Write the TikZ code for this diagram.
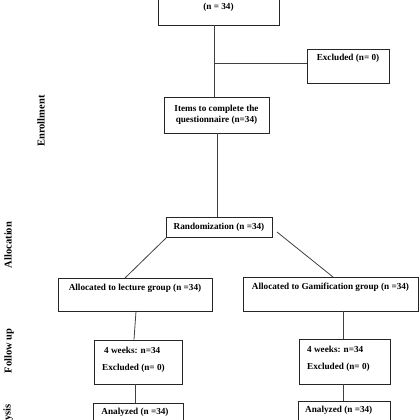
\documentclass[tikz,border=0pt]{standalone}
\usepackage{fontspec}
\setmainfont{Liberation Serif}
\tikzset{
  box/.style={draw=black!85, line width=0.9pt, rectangle, inner sep=0pt},
  txt/.style={inner sep=0pt, font=\fontsize{9.2}{11}\selectfont\bfseries, align=center},
  side/.style={inner sep=0pt, rotate=90, font=\fontsize{10.5}{12}\selectfont\bfseries},
  conn/.style={draw=black!75, line width=0.8pt}
}
\begin{document}
\begin{tikzpicture}[x=1pt,y=-1pt]
\useasboundingbox (0,0) rectangle (420,420);
\clip (0,0) rectangle (420,420);
% boxes
\node[box, minimum width=121pt, minimum height=40pt] (top) at (218.5,5) {};
\node[txt] (toptxt) at (218.5,7) {(n = 34)};
\node[box, minimum width=82pt, minimum height=34pt] (excl) at (348,66) {};
\node[txt] (excltxt) at (348,58) {Excluded (n= 0)};
\node[box, minimum width=105pt, minimum height=36pt, txt] (items) at (216.5,115) {Items to complete the\\questionnaire (n=34)};
\node[box, minimum width=106pt, minimum height=20pt, txt] (rand) at (219,227) {Randomization (n =34)};
\node[box, minimum width=154pt, minimum height=33pt] (lect) at (135,294.5) {};
\node[txt] (lecttxt) at (135,288) {Allocated to lecture group (n =34)};
\node[box, minimum width=175pt, minimum height=34pt] (gami) at (330.5,294) {};
\node[txt] (gamitxt) at (330.5,287) {Allocated to Gamification group (n =34)};
\node[box, minimum width=88pt, minimum height=44pt] (fuL) at (138,362) {};
\node[txt, anchor=west] (fuLa) at (104,350) {4 weeks: n=34};
\node[txt, anchor=west] (fuLb) at (102,368) {Excluded (n= 0)};
\node[box, minimum width=91pt, minimum height=45pt] (fuR) at (344.5,361.5) {};
\node[txt, anchor=west] (fuRa) at (307,349) {4 weeks: n=34};
\node[txt, anchor=west] (fuRb) at (307,367) {Excluded (n= 0)};
\node[box, minimum width=90pt, minimum height=40pt, anchor=north] (anL) at (138,403) {};
\node[txt] (anLtxt) at (135,412) {Analyzed (n =34)};
\node[box, minimum width=92pt, minimum height=40pt, anchor=north] (anR) at (344,401) {};
\node[txt, anchor=west] (anRtxt) at (305,410) {Analyzed (n =34)};
% side labels
\node[side] (enr) at (41,121) {Enrollment};
\node[side] (alloc) at (8,245) {Allocation};
\node[side] (fol) at (9,351) {Follow up};
\node[side] (ana) at (8,423.5) {Analysis};
% connector coordinates
\coordinate (xa) at (214,0);
\coordinate (j1) at (214,63);
\coordinate (xb) at (217,0);
\coordinate (rl) at (166,238);
\coordinate (ll) at (125,278);
\coordinate (rr) at (277,232);
\coordinate (gr) at (333,277);
\coordinate (xl1) at (136,0);
\coordinate (xl2) at (134,0);
\coordinate (xl3) at (135,0);
\coordinate (xr) at (343,0);
% connectors
\draw[conn] (top.south -| xa) -- (items.north -| xa);
\draw[conn] (j1) -- (j1 -| excl.west);
\draw[conn] (items.south -| xb) -- (rand.north -| xb);
\draw[conn] (rl) -- (ll);
\draw[conn] (rr) -- (gr);
\draw[conn] (lect.south -| xl1) -- (fuL.north -| xl2);
\draw[conn] (gami.south -| xr) -- (fuR.north -| xr);
\draw[conn] (fuL.south -| xl3) -- (anL.north -| xl3);
\draw[conn] (fuR.south -| xr) -- (anR.north -| xr);
\end{tikzpicture}
\end{document}
